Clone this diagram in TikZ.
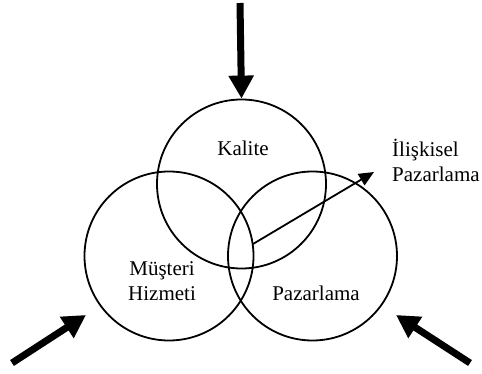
\documentclass[tikz,border=0pt]{standalone}
\usepackage{fontspec}
\setmainfont{Liberation Serif}
\usetikzlibrary{arrows.meta}
\begin{document}
\begin{tikzpicture}[x=1pt,y=-1pt,
  ring/.style={draw, line width=1.8pt, circle, minimum size=169pt, inner sep=0pt},
  lbl/.style={font=\fontsize{21}{25}\selectfont, inner sep=0pt, align=center},
  bigarrow/.style={line width=7pt, -{Triangle[width=24pt,length=23pt]}},
  thinarrow/.style={line width=1.8pt, -{Triangle[width=13pt,length=15pt]}}]
  \useasboundingbox (0,0) rectangle (482,374);
  % three overlapping circles
  \node[ring] (kal) at (241.5,184) {};
  \node[ring] (mus) at (169,256) {};
  \node[ring] (paz) at (312.5,256) {};
  % labels
  \node[lbl] (tkal) at (243,148) {Kalite};
  \node[lbl] (tmus) at (162,281) {Müşteri\\Hizmeti};
  \node[lbl] (tpaz) at (316,293) {Pazarlama};
  \node[lbl, anchor=west, align=left] (till) at (392,160) {İlişkisel\\Pazarlama};
  % arrow points
  \coordinate (s1) at (240,3);
  \coordinate (s2) at (12,363);
  \coordinate (e2) at (86,315);
  \coordinate (s3) at (470,363);
  \coordinate (e3) at (396,315);
  \coordinate (c0) at (253,244);
  \coordinate (c1) at (374,172);
  % incoming arrows
  \draw[bigarrow] (s1) -- (kal.north);
  \draw[bigarrow] (s2) -- (e2);
  \draw[bigarrow] (s3) -- (e3);
  % relationship arrow
  \draw[thinarrow] (c0) -- (c1);
\end{tikzpicture}
\end{document}
